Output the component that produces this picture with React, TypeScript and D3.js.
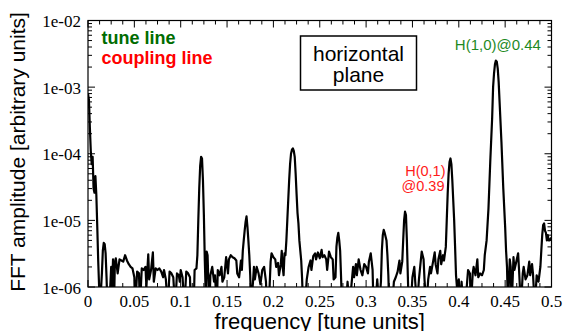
import { line as d3Line, scaleLinear, scaleLog, select } from "d3";
import { useEffect, useRef } from "react";

// spectrum (values below 1e-6 drop out of the frame)
const frequency = [
  0.0, 0.001, 0.002, 0.003, 0.004, 0.005, 0.006, 0.007, 0.008, 0.009, 0.01, 0.011, 0.012, 0.013, 0.015,
  0.016, 0.017, 0.018, 0.019, 0.02, 0.021, 0.023, 0.025, 0.026, 0.027, 0.028, 0.029, 0.03, 0.032, 0.034,
  0.036, 0.038, 0.04, 0.042, 0.044, 0.046, 0.048, 0.05, 0.051, 0.053, 0.055, 0.056, 0.058, 0.06, 0.062,
  0.063, 0.065, 0.066, 0.068, 0.07, 0.071, 0.073, 0.075, 0.077, 0.079, 0.081, 0.082, 0.084, 0.086, 0.088,
  0.09, 0.092, 0.094, 0.096, 0.098, 0.099, 0.1, 0.102, 0.104, 0.106, 0.108, 0.11, 0.111, 0.114, 0.115,
  0.117, 0.118, 0.119, 0.12, 0.121, 0.122, 0.123, 0.124, 0.125, 0.126, 0.127, 0.128, 0.129, 0.13, 0.131,
  0.132, 0.134, 0.136, 0.137, 0.139, 0.14, 0.142, 0.144, 0.145, 0.147, 0.149, 0.151, 0.152, 0.154, 0.156,
  0.158, 0.16, 0.161, 0.163, 0.165, 0.166, 0.167, 0.168, 0.169, 0.17, 0.171, 0.172, 0.173, 0.174, 0.175,
  0.176, 0.178, 0.179, 0.18, 0.182, 0.184, 0.186, 0.188, 0.19, 0.192, 0.193, 0.195, 0.197, 0.198, 0.2,
  0.202, 0.203, 0.205, 0.206, 0.208, 0.209, 0.21, 0.211, 0.212, 0.213, 0.214, 0.215, 0.216, 0.217, 0.218,
  0.219, 0.22, 0.221, 0.222, 0.223, 0.224, 0.225, 0.226, 0.227, 0.228, 0.23, 0.231, 0.232, 0.234, 0.236,
  0.238, 0.24, 0.241, 0.243, 0.245, 0.246, 0.248, 0.25, 0.252, 0.253, 0.255, 0.257, 0.258, 0.26, 0.262,
  0.264, 0.265, 0.267, 0.268, 0.269, 0.27, 0.271, 0.272, 0.273, 0.274, 0.278, 0.28, 0.282, 0.284, 0.286,
  0.287, 0.289, 0.29, 0.292, 0.294, 0.296, 0.298, 0.3, 0.302, 0.303, 0.305, 0.307, 0.308, 0.31, 0.312,
  0.314, 0.316, 0.317, 0.318, 0.319, 0.32, 0.322, 0.323, 0.324, 0.325, 0.328, 0.33, 0.332, 0.334, 0.336,
  0.337, 0.339, 0.34, 0.341, 0.342, 0.343, 0.344, 0.345, 0.346, 0.348, 0.35, 0.352, 0.353, 0.355, 0.357,
  0.359, 0.36, 0.362, 0.363, 0.365, 0.367, 0.369, 0.37, 0.372, 0.374, 0.375, 0.377, 0.378, 0.38, 0.381,
  0.383, 0.384, 0.386, 0.387, 0.388, 0.389, 0.39, 0.391, 0.392, 0.393, 0.394, 0.395, 0.396, 0.397, 0.398,
  0.4, 0.401, 0.403, 0.405, 0.407, 0.409, 0.41, 0.412, 0.413, 0.415, 0.416, 0.418, 0.42, 0.421, 0.423,
  0.425, 0.427, 0.428, 0.43, 0.432, 0.434, 0.436, 0.437, 0.438, 0.439, 0.44, 0.441, 0.442, 0.443, 0.444,
  0.446, 0.448, 0.45, 0.451, 0.452, 0.453, 0.455, 0.456, 0.457, 0.459, 0.46, 0.462, 0.464, 0.465, 0.467,
  0.469, 0.47, 0.472, 0.474, 0.476, 0.477, 0.479, 0.48, 0.482, 0.484, 0.486, 0.488, 0.489, 0.49, 0.491,
  0.492, 0.493, 0.494, 0.495, 0.496, 0.497, 0.498, 0.5,
];

const amplitude = [
  8e-4, 6.5e-4, 2.5e-4, 1.1e-4, 7e-5, 9e-5, 3e-5, 2.6e-5, 4.6e-5, 2.4e-5, 8e-6, 2.5e-6, 1e-6, 5e-7, 1.6e-6,
  3.5e-6, 4.6e-6, 4.4e-6, 3.2e-6, 1.4e-6, 5e-7, 5e-7, 2e-6, 1e-6, 2.6e-6, 5e-7, 2.3e-6, 2.7e-6, 1.6e-6, 2.6e-6,
  2.5e-6, 2.4e-6, 3e-6, 2.5e-6, 2.2e-6, 2e-6, 1.9e-6, 1.4e-6, 5e-7, 1.7e-6, 1.6e-6, 5e-7, 1.9e-6, 1.8e-6, 2e-6,
  1e-6, 3.1e-6, 1.3e-6, 1.8e-6, 3.3e-6, 1.2e-6, 1.9e-6, 1.8e-6, 1.9e-6, 1.7e-6, 1.4e-6, 1.8e-6, 1.3e-6, 5e-7, 1.7e-6,
  1.6e-6, 1.4e-6, 5e-7, 1.6e-6, 1.5e-6, 1.2e-6, 1.8e-6, 1.4e-6, 5e-7, 1.7e-6, 1.6e-6, 1.4e-6, 5e-7, 5e-7, 1.8e-6,
  1.9e-6, 3e-6, 1e-5, 3e-5, 6.5e-5, 9e-5, 8.5e-5, 4e-5, 1.2e-5, 2.5e-6, 8e-7, 3.4e-6, 3e-6, 1e-6, 5e-7,
  1.5e-6, 2e-6, 1.2e-6, 1.5e-6, 5e-7, 1.8e-6, 1.5e-6, 2e-6, 1.2e-6, 1.4e-6, 2.8e-6, 1.6e-6, 2.6e-6, 3e-6, 2.8e-6,
  2.7e-6, 2.5e-6, 1.6e-6, 1.4e-6, 2.5e-6, 1.8e-6, 3.5e-6, 5e-6, 7e-6, 9.5e-6, 1.15e-5, 8e-6, 5e-6, 3e-6, 1.5e-6,
  5e-7, 1.2e-6, 2e-6, 1.3e-6, 2e-6, 1.6e-6, 1.1e-6, 1.8e-6, 2e-6, 1.2e-6, 5e-7, 5e-7, 2.4e-6, 3.2e-6, 2.8e-6,
  2.6e-6, 2e-6, 2.3e-6, 1.5e-6, 2.2e-6, 3.5e-6, 2e-6, 1.5e-6, 3.2e-6, 3e-6, 5e-6, 1e-5, 2e-5, 4e-5, 7e-5,
  1e-4, 1.15e-4, 1.2e-4, 1.1e-4, 9e-5, 5e-5, 2.5e-5, 1.3e-5, 9e-6, 5e-6, 2.5e-6, 1.3e-6, 5e-7, 5e-7, 1.3e-6,
  2e-6, 2.5e-6, 1.8e-6, 2.9e-6, 3.2e-6, 2.6e-6, 3.3e-6, 2.7e-6, 3.6e-6, 2.8e-6, 3e-6, 2.6e-6, 1.8e-6, 3.4e-6, 2.8e-6,
  2.6e-6, 1.3e-6, 1.4e-6, 4e-6, 5.5e-6, 6.5e-6, 5e-6, 3.5e-6, 1.4e-6, 5e-7, 5e-7, 1.2e-6, 5e-7, 1e-6, 2e-6,
  1.4e-6, 2.2e-6, 1.5e-6, 2.6e-6, 1.8e-6, 1.5e-6, 2.2e-6, 2e-6, 1.6e-6, 2.4e-6, 3.2e-6, 1.8e-6, 5e-7, 5e-7, 1.3e-6,
  5e-7, 1.2e-6, 3.5e-6, 6e-6, 7.2e-6, 6.5e-6, 5e-6, 3e-6, 1.5e-6, 5e-7, 5e-7, 1.2e-6, 1.4e-6, 1.7e-6, 2.5e-6,
  1.6e-6, 2.4e-6, 5e-6, 1e-5, 1.35e-5, 1.2e-5, 5e-6, 1.5e-6, 5e-7, 5e-7, 1.4e-6, 2e-6, 1.2e-6, 5e-7, 1.3e-6,
  2.5e-6, 3.4e-6, 2.6e-6, 1.3e-6, 5e-7, 1.3e-6, 2e-6, 1.6e-6, 2.3e-6, 3.3e-6, 2.2e-6, 1.6e-6, 2.6e-6, 3.5e-6, 2.2e-6,
  3e-6, 2.5e-6, 4e-6, 1e-5, 2.5e-5, 5e-5, 7.5e-5, 8.5e-5, 7e-5, 4e-5, 2e-5, 1e-5, 4e-6, 1.5e-6, 1e-6,
  1.3e-6, 5e-7, 1.2e-6, 5e-7, 5e-7, 1.2e-6, 1.8e-6, 1.6e-6, 5e-7, 1.6e-6, 2e-6, 1.5e-6, 2.6e-6, 1.4e-6, 1.6e-6,
  1.5e-6, 1.8e-6, 3e-6, 5e-6, 1.5e-5, 8e-5, 3.5e-4, 1e-3, 1.6e-3, 2.2e-3, 2.5e-3, 2.4e-3, 1.9e-3, 1.2e-3, 6e-4,
  1.5e-4, 3e-5, 8e-6, 3.5e-6, 2e-6, 5e-7, 2.6e-6, 2e-6, 5e-7, 2.8e-6, 1.8e-6, 2.4e-6, 3.2e-6, 1.8e-6, 5e-7,
  1.6e-6, 2e-6, 1.3e-6, 1.5e-6, 2.4e-6, 1.5e-6, 2.2e-6, 1.6e-6, 5e-7, 1.5e-6, 1.2e-6, 2e-6, 3.5e-6, 6e-6, 8.5e-6,
  9e-6, 7e-6, 6.5e-6, 5e-6, 6e-6, 5e-6, 5e-6, 5.5e-6,
];

const xMajorTicks = [0, 0.05, 0.1, 0.15, 0.2, 0.25, 0.3, 0.35, 0.4, 0.45, 0.5];
const xTickLabels = ["0", "0.05", "0.1", "0.15", "0.2", "0.25", "0.3", "0.35", "0.4", "0.45", "0.5"];
const xMinorStep = 0.0125;
const yDecades = [1e-6, 1e-5, 1e-4, 1e-3, 1e-2];
const yTickLabels = ["1e-06", "1e-05", "1e-04", "1e-03", "1e-02"];

const legendItems = [
  { text: "tune line", color: "#006c00" },
  { text: "coupling line", color: "#ff0000" },
];
const boxLines = ["horizontal", "plane"];
const peakLabels = [
  { lines: ["H(1,0)@0.44"], color: "#1f8a1f", f: 0.44, anchor: "middle" },
  { lines: ["H(0,1)", "@0.39"], color: "#ff1a1a", f: 0.39, anchor: "end" },
];

const SERIF = "'Liberation Serif', 'DejaVu Serif', serif";
const SANS = "'Liberation Sans', Arial, sans-serif";

export default function App() {
  const svgRef = useRef<SVGSVGElement | null>(null);

  useEffect(() => {
    if (!svgRef.current) return;
    const svg = select(svgRef.current);
    svg.selectAll("*").remove();

    const width = 563;
    const height = 331;
    const margin = { top: 20.5, right: 11.5, bottom: 44, left: 88 };
    const innerWidth = width - margin.left - margin.right;
    const innerHeight = height - margin.top - margin.bottom;

    const xScale = scaleLinear().domain([0, 0.5]).range([0, innerWidth]);
    const yScale = scaleLog().domain([1e-6, 1e-2]).range([innerHeight, 0]);

    svg.append("rect").attr("width", width).attr("height", height).attr("fill", "#fff");

    const chart = svg.append("g").attr("transform", `translate(${margin.left},${margin.top})`);

    svg
      .append("defs")
      .append("clipPath")
      .attr("id", "plot-clip")
      .append("rect")
      .attr("width", innerWidth)
      .attr("height", innerHeight);

    const points = frequency.map((f, i) => ({ f, a: amplitude[i] }));
    const lineGenerator = d3Line<{ f: number; a: number }>()
      .x((d) => xScale(d.f))
      .y((d) => yScale(d.a));

    chart
      .append("path")
      .datum(points)
      .attr("clip-path", "url(#plot-clip)")
      .attr("fill", "none")
      .attr("stroke", "#000")
      .attr("stroke-width", 2.2)
      .attr("stroke-linejoin", "round")
      .attr("d", lineGenerator);

    // frame
    chart
      .append("rect")
      .attr("width", innerWidth)
      .attr("height", innerHeight)
      .attr("fill", "none")
      .attr("stroke", "#000")
      .attr("stroke-width", 1.2);

    // x ticks, inward on top and bottom
    const nMinor = Math.round(0.5 / xMinorStep);
    for (let i = 0; i <= nMinor; i++) {
      const v = i * xMinorStep;
      const major = i % 4 === 0;
      const len = major ? 7 : 4;
      const x = xScale(v);
      chart.append("line").attr("x1", x).attr("x2", x).attr("y1", innerHeight).attr("y2", innerHeight - len).attr("stroke", "#000");
      chart.append("line").attr("x1", x).attr("x2", x).attr("y1", 0).attr("y2", len).attr("stroke", "#000");
    }

    // y ticks, log minor ticks on both sides
    yScale.ticks().forEach((v) => {
      const major = yDecades.some((d) => Math.abs(d - v) / d < 1e-6);
      const len = major ? 7 : 4;
      const y = yScale(v);
      chart.append("line").attr("x1", 0).attr("x2", len).attr("y1", y).attr("y2", y).attr("stroke", "#000");
      chart.append("line").attr("x1", innerWidth).attr("x2", innerWidth - len).attr("y1", y).attr("y2", y).attr("stroke", "#000");
    });

    xMajorTicks.forEach((v, i) => {
      chart
        .append("text")
        .attr("x", xScale(v))
        .attr("y", innerHeight + 19.5)
        .attr("text-anchor", "middle")
        .attr("font-family", SERIF)
        .attr("font-size", 17)
        .text(xTickLabels[i]);
    });

    yDecades.forEach((v, i) => {
      chart
        .append("text")
        .attr("x", -7)
        .attr("y", yScale(v) + 6.5)
        .attr("text-anchor", "end")
        .attr("font-family", SERIF)
        .attr("font-size", 17)
        .text(yTickLabels[i]);
    });

    // axis titles
    svg
      .append("text")
      .attr("x", margin.left + innerWidth / 2)
      .attr("y", 329)
      .attr("text-anchor", "middle")
      .attr("font-family", SANS)
      .attr("font-size", 22)
      .text("frequency [tune units]");

    svg
      .append("text")
      .attr("transform", `translate(25,152) rotate(-90)`)
      .attr("text-anchor", "middle")
      .attr("font-family", SANS)
      .attr("font-size", 21)
      .text("FFT amplitude [arbitrary units]");

    // legend-like labels
    legendItems.forEach((item, i) => {
      svg
        .append("text")
        .attr("x", 101.5)
        .attr("y", 43.5 + i * 20)
        .attr("font-family", SANS)
        .attr("font-weight", "bold")
        .attr("font-size", 18)
        .attr("fill", item.color)
        .text(item.text);
    });

    // "horizontal plane" box
    svg
      .append("rect")
      .attr("x", 300.5)
      .attr("y", 36)
      .attr("width", 116)
      .attr("height", 54)
      .attr("fill", "#fff")
      .attr("stroke", "#000")
      .attr("stroke-width", 1.5);
    boxLines.forEach((t, i) => {
      svg
        .append("text")
        .attr("x", 358.5)
        .attr("y", 61 + i * 21)
        .attr("text-anchor", "middle")
        .attr("font-family", SANS)
        .attr("font-size", 21)
        .text(t);
    });

    // peak annotations
    const [tune, coupling] = peakLabels;
    svg
      .append("text")
      .attr("x", margin.left + xScale(tune.f) + 2)
      .attr("y", 50)
      .attr("text-anchor", tune.anchor)
      .attr("font-family", SANS)
      .attr("font-size", 15)
      .attr("fill", tune.color)
      .text(tune.lines[0]);
    coupling.lines.forEach((t, i) => {
      svg
        .append("text")
        .attr("x", margin.left + xScale(coupling.f) - 4 + (i === 1 ? -1 : 0))
        .attr("y", 176 + i * 15)
        .attr("text-anchor", coupling.anchor)
        .attr("font-family", SANS)
        .attr("font-size", 14.5)
        .attr("fill", coupling.color)
        .text(t);
    });
  }, []);

  return (
    <div style={{ position: "fixed", left: 0, top: 0 }}>
      <svg ref={svgRef} width={563} height={331} role="img" aria-label="FFT spectrum, horizontal plane" />
    </div>
  );
}
